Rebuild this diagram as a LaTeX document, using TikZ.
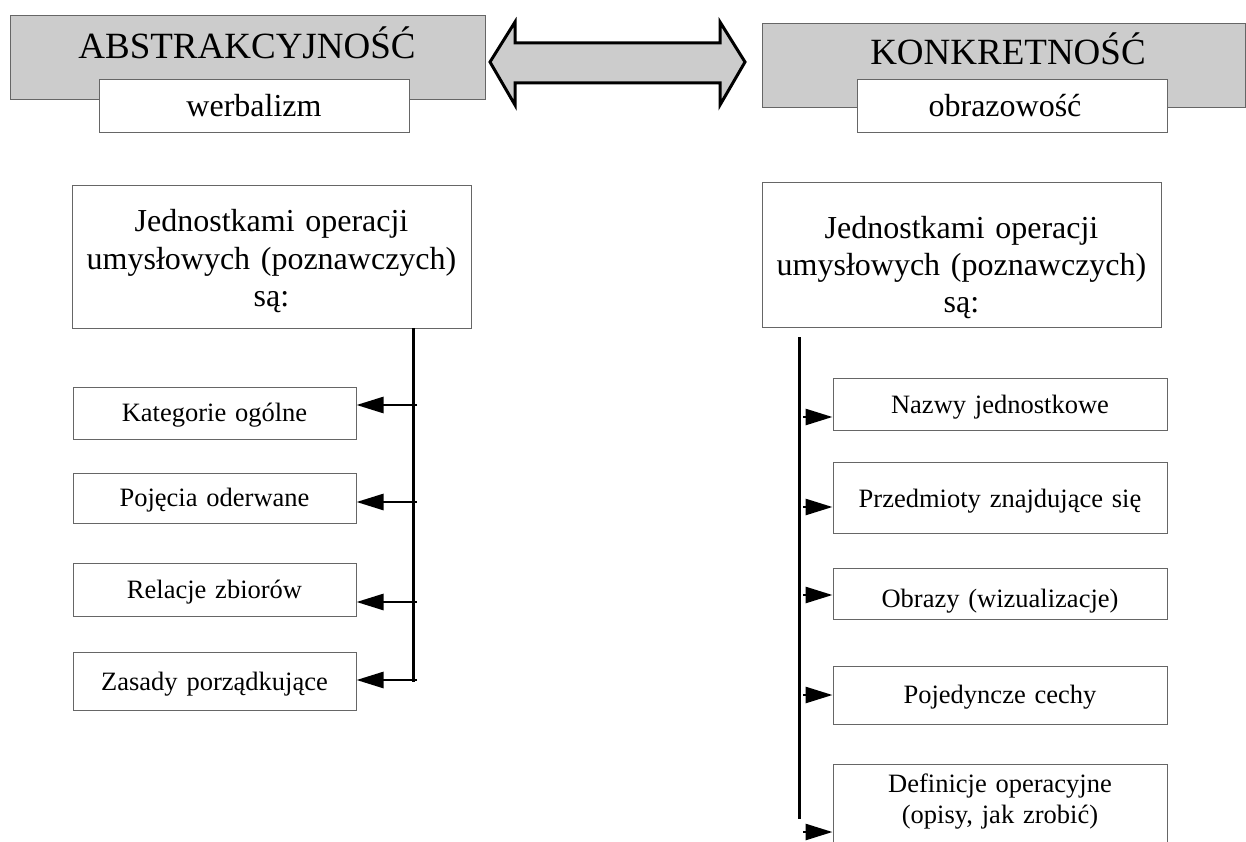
\documentclass[tikz,border=0pt]{standalone}
\usepackage{fontspec}
\setmainfont{Liberation Serif}
\usetikzlibrary{arrows.meta}
\definecolor{boxgray}{HTML}{CCCCCC}
\begin{document}
\begin{tikzpicture}[x=1pt,y=-1pt,
  frame/.style={draw=black!60, line width=1pt, inner sep=0pt, rectangle},
  graybox/.style={frame, fill=boxgray},
  whitebox/.style={frame, fill=white},
  titletxt/.style={anchor=base, inner sep=0pt, font=\fontsize{37}{44}\selectfont},
  subtxt/.style={anchor=base, inner sep=0pt, font=\fontsize{32}{37}\selectfont},
  bigtxt/.style={anchor=base, inner sep=0pt, text width=420pt, align=center, font=\fontsize{32}{37}\selectfont},
  smalltxt/.style={anchor=base, inner sep=0pt, text width=330pt, align=center, font=\fontsize{26.5}{31}\selectfont},
  vline/.style={line width=3pt, black},
  arr/.style={line width=2.7pt, black, -{Triangle[length=27pt,width=16pt]}},
  bigarrow/.style={draw=black, line width=3pt, fill=boxgray, line join=miter}
]
\useasboundingbox (0,0) rectangle (1246,842);

% header left
\node[graybox, minimum width=475pt, minimum height=84pt] (lgray) at (247.5,58) {};
\node[titletxt] (ltitle) at (247,59) {ABSTRAKCYJNOŚĆ};
\node[whitebox, minimum width=310pt, minimum height=53pt] (lwhite) at (254,106.5) {};
\node[subtxt] (lsub) at (254,117) {werbalizm};

% header right
\node[graybox, minimum width=483pt, minimum height=84pt] (rgray) at (1003.5,66) {};
\node[titletxt] (rtitle) at (1008,65) {KONKRETNOŚĆ};
\node[whitebox, minimum width=310pt, minimum height=53pt] (rwhite) at (1012,106.5) {};
\node[subtxt] (rsub) at (1005,117) {obrazowość};

% double arrow
\draw[bigarrow] (490,62) -- (515,22) -- (515,43) -- (720,43) -- (720,22) -- (745,62)
  -- (720,105) -- (720,83) -- (515,83) -- (515,105) -- cycle;

% left column
\node[whitebox, minimum width=399pt, minimum height=142pt] (lj) at (271.5,257) {};
\node[bigtxt] (ljt) at (271.5,232) {Jednostkami operacji\\umysłowych (poznawczych)\\są:};

\node[whitebox, minimum width=283pt, minimum height=52pt] (kat) at (214.5,413) {};
\node[smalltxt] at (214.5,421) {Kategorie ogólne};
\node[whitebox, minimum width=283pt, minimum height=50pt] (poj) at (214.5,498) {};
\node[smalltxt] at (214.5,506) {Pojęcia oderwane};
\node[whitebox, minimum width=283pt, minimum height=53pt] (rel) at (214.5,589.5) {};
\node[smalltxt] at (214.5,598) {Relacje zbiorów};
\node[whitebox, minimum width=283pt, minimum height=58pt] (zas) at (214.5,681) {};
\node[smalltxt] at (214.5,690) {Zasady porządkujące};

\coordinate (lvtop) at (413,328);
\coordinate (lvbot) at (413,682);
\draw[vline] (lvtop) -- (lvbot);
\coordinate (la1) at (417,405);
\coordinate (la2) at (417,502);
\coordinate (la3) at (417,602);
\coordinate (la4) at (417,680);
\draw[arr] (la1) -- (la1 -| kat.east);
\draw[arr] (la2) -- (la2 -| poj.east);
\draw[arr] (la3) -- (la3 -| rel.east);
\draw[arr] (la4) -- (la4 -| zas.east);

% right column
\node[whitebox, minimum width=399pt, minimum height=144pt] (rj) at (961.5,255) {};
\node[bigtxt] (rjt) at (961.5,238) {Jednostkami operacji\\umysłowych (poznawczych)\\są:};

\node[whitebox, minimum width=334pt, minimum height=52pt] (naz) at (1000,404) {};
\node[smalltxt] at (1000,413) {Nazwy jednostkowe};
\node[whitebox, minimum width=334pt, minimum height=71pt] (prz) at (1000,497.5) {};
\node[smalltxt] at (1000,507) {Przedmioty znajdujące się};
\node[whitebox, minimum width=334pt, minimum height=51pt] (obr) at (1000,593.5) {};
\node[smalltxt] at (1000,607) {Obrazy (wizualizacje)};
\node[whitebox, minimum width=334pt, minimum height=58pt] (pjd) at (1000,695) {};
\node[smalltxt] at (1000,703) {Pojedyncze cechy};
\node[whitebox, minimum width=334pt, minimum height=100pt] (dfn) at (1000,814) {};
\node[smalltxt] at (1000,792) {Definicje operacyjne\\(opisy, jak zrobić)};

\coordinate (rvtop) at (799,337);
\coordinate (rvbot) at (799,819);
\draw[vline] (rvtop) -- (rvbot);
\coordinate (ra1) at (803,417);
\coordinate (ra2) at (803,507);
\coordinate (ra3) at (803,595);
\coordinate (ra4) at (803,695);
\coordinate (ra5) at (803,832);
\draw[arr] (ra1) -- (ra1 -| naz.west);
\draw[arr] (ra2) -- (ra2 -| prz.west);
\draw[arr] (ra3) -- (ra3 -| obr.west);
\draw[arr] (ra4) -- (ra4 -| pjd.west);
\draw[arr] (ra5) -- (ra5 -| dfn.west);
\end{tikzpicture}
\end{document}
